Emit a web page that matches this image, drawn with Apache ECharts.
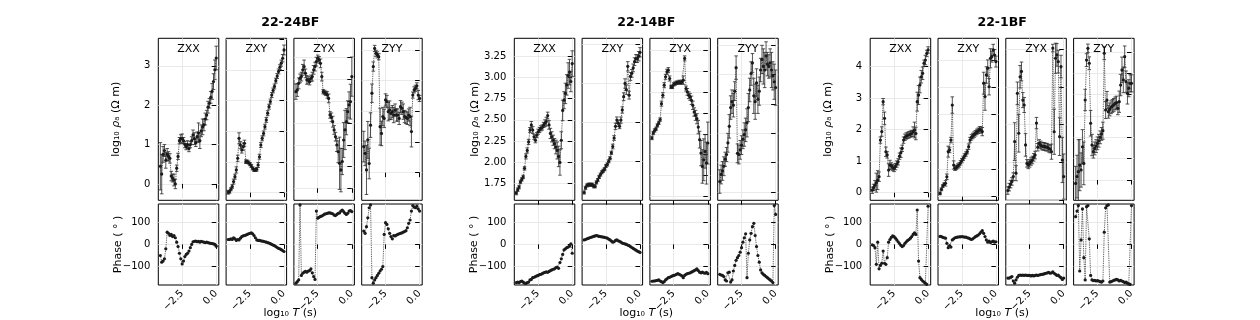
<!DOCTYPE html>
<html><head><meta charset="utf-8">
<script src="https://cdn.jsdelivr.net/npm/echarts@6/dist/echarts.min.js"></script>
<style>html,body{margin:0;padding:0;background:#fff}#c{width:1260px;height:320px}</style>
</head><body><div id="c"></div>
<script>
// ---------------- DATA ----------------
const stations = ['22-24BF', '22-14BF', '22-1BF'];
const components = ['ZXX', 'ZXY', 'ZYX', 'ZYY'];
const periods = [-4.1,-4.0,-3.9,-3.8,-3.7,-3.6,-3.5,-3.4,-3.3,-3.2,-3.1,-3.0,-2.9,-2.8,-2.7,-2.6,-2.5,-2.4,-2.3,-2.2,-2.1,-2.0,-1.9,-1.8,-1.7,-1.6,-1.5,-1.4,-1.3,-1.2,-1.1,-1.0,-0.9,-0.8,-0.7,-0.6,-0.5,-0.4,-0.3,-0.2,-0.1,0.0];

// station 22-24BF
const g1ZxxRho = [0.45,0.25,0.75,0.85,0.6,0.75,0.7,0.65,0.2,0.15,0.1,0.0,0.4,0.7,1.1,1.15,1.15,1.1,1.0,0.95,1.0,0.9,1.0,1.1,1.25,1.15,1.05,1.2,1.3,1.1,1.35,1.45,1.5,1.65,1.75,1.95,2.05,2.2,2.35,2.6,2.9,3.2];
const g1ZxxErr = [0.6,0.5,0.2,0.15,0.2,0.15,0.12,0.12,0.12,0.1,0.15,0.12,0.08,0.08,0.08,0.1,0.12,0.08,0.08,0.08,0.1,0.08,0.08,0.1,0.12,0.15,0.1,0.12,0.25,0.2,0.15,0.2,0.15,0.15,0.12,0.15,0.12,0.15,0.2,0.2,0.25,0.3];
const g1ZxyRho = [0.01,0.03,0.11,0.2,0.36,0.52,0.74,1.12,1.77,1.55,1.39,1.5,1.61,1.01,1.01,0.98,0.93,0.87,0.79,0.74,0.74,0.76,0.9,1.17,1.55,1.77,1.93,2.15,2.37,2.59,2.8,2.97,3.18,3.33,3.46,3.65,3.8,3.95,4.09,4.22,4.38,4.65];
const g1ZxyErr = [0.06,0.05,0.05,0.06,0.08,0.08,0.1,0.1,0.18,0.12,0.1,0.12,0.1,0.06,0.05,0.05,0.05,0.05,0.05,0.05,0.05,0.06,0.08,0.08,0.08,0.08,0.08,0.08,0.08,0.08,0.08,0.08,0.08,0.08,0.08,0.08,0.08,0.08,0.08,0.1,0.12,0.16];
const g1ZyxRho = [4.44,4.52,4.82,5.05,5.13,5.44,5.59,5.28,4.98,4.98,4.9,5.05,5.13,5.44,5.59,5.82,5.97,5.9,5.74,5.13,4.44,4.4,4.36,4.29,4.13,3.37,3.26,3.06,2.68,2.37,1.99,1.68,1.15,0.84,1.23,2.22,2.68,3.06,3.52,3.83,3.98,5.13];
const g1ZyxErr = [0.35,0.3,0.25,0.2,0.2,0.25,0.3,0.2,0.2,0.15,0.15,0.15,0.2,0.2,0.2,0.2,0.15,0.15,0.2,0.2,0.1,0.1,0.1,0.15,0.2,0.15,0.2,0.25,0.2,0.2,0.3,0.5,1.2,1.0,0.6,0.8,0.9,0.6,0.5,0.6,0.8,0.9];
const g1ZyyRho = [0.85,0.63,0.09,1.07,0.3,1.55,2.59,3.46,4.05,3.89,3.84,3.78,1.5,1.28,1.83,1.77,2.37,2.32,1.99,2.04,1.93,1.99,1.88,2.04,1.88,1.88,1.77,2.15,2.1,1.99,1.83,1.8,1.77,1.88,1.83,1.34,2.53,2.7,2.75,2.83,2.53,2.42];
const g1ZyyErr = [0.5,0.4,0.8,0.6,0.5,0.4,0.3,0.15,0.1,0.1,0.1,0.1,0.6,0.4,0.3,0.3,0.2,0.2,0.3,0.3,0.2,0.2,0.25,0.2,0.2,0.2,0.2,0.2,0.2,0.25,0.2,0.2,0.2,0.2,0.3,0.5,0.1,0.1,0.1,0.1,0.15,0.1];
const g1ZxxPhase = [-50,-80,-75,-65,-20,55,50,40,45,35,40,30,10,-10,-40,-65,-88,-75,-55,-45,-40,-30,-15,0,12,14,15,12,14,10,14,12,10,8,10,8,6,5,4,2,0,-8];
const g1ZxyPhase = [22,22,25,22,30,25,18,22,20,28,35,38,40,42,45,48,50,52,48,40,30,20,18,18,16,15,14,12,10,8,6,3,0,-3,-6,-10,-14,-18,-20,-24,-28,-32];
const g1ZyxPhase = [-175,-168,-160,178,-140,-130,-125,-122,-125,-120,-118,-110,-128,-145,-158,150,118,122,126,128,132,136,138,140,142,142,140,138,132,130,135,140,142,150,155,148,140,135,140,150,152,148];
const g1ZyyPhase = [60,50,80,120,165,178,-150,-175,-160,-150,-140,-130,-120,-112,-100,45,98,90,70,50,35,25,40,38,42,45,48,50,52,55,58,62,75,95,110,150,175,168,165,172,160,150];

// station 22-14BF
const g2ZxxRho = [1.64,1.68,1.71,1.77,1.8,1.83,1.93,2.07,2.14,2.24,2.38,2.44,2.38,2.3,2.26,2.32,2.36,2.38,2.4,2.41,2.44,2.46,2.48,2.55,2.44,2.34,2.3,2.26,2.22,2.18,2.14,2.07,2.0,2.26,2.61,2.73,2.81,2.91,3.02,3.06,2.95,3.16];
const g2ZxxErr = [0.02,0.02,0.02,0.02,0.02,0.02,0.02,0.03,0.03,0.03,0.03,0.04,0.04,0.03,0.03,0.03,0.03,0.03,0.03,0.03,0.03,0.04,0.05,0.04,0.05,0.06,0.06,0.06,0.06,0.08,0.1,0.12,0.15,0.1,0.12,0.1,0.12,0.12,0.15,0.15,0.12,0.15];
const g2ZxyRho = [1.6,1.66,1.69,1.7,1.7,1.7,1.7,1.68,1.68,1.73,1.76,1.8,1.83,1.86,1.88,1.9,1.94,1.96,2.0,2.04,2.11,2.19,2.3,2.45,2.53,2.49,2.45,2.53,2.66,2.83,3.0,2.92,3.22,2.85,3.09,3.13,3.2,3.28,3.32,3.32,3.35,3.4];
const g2ZxyErr = [0.02,0.02,0.02,0.02,0.02,0.02,0.02,0.02,0.02,0.02,0.02,0.02,0.02,0.02,0.02,0.02,0.02,0.02,0.02,0.02,0.02,0.03,0.03,0.04,0.04,0.04,0.03,0.04,0.04,0.05,0.06,0.06,0.06,0.05,0.05,0.05,0.05,0.05,0.05,0.05,0.06,0.06];
const g2ZyxRho = [2.45,2.51,2.54,2.56,2.6,2.63,2.67,2.86,2.96,3.08,3.18,3.24,3.26,3.16,3.06,3.06,3.09,3.1,3.11,3.11,3.12,3.11,3.12,3.14,3.4,3.04,3.0,2.96,2.94,2.9,2.84,2.76,2.72,2.68,2.58,2.43,2.27,2.11,2.19,2.29,2.15,2.39];
const g2ZyxErr = [0.02,0.02,0.02,0.02,0.02,0.02,0.02,0.03,0.03,0.03,0.03,0.03,0.03,0.03,0.02,0.02,0.02,0.02,0.02,0.02,0.02,0.02,0.02,0.05,0.03,0.03,0.04,0.04,0.04,0.05,0.05,0.05,0.06,0.06,0.08,0.1,0.15,0.2,0.25,0.2,0.25,0.25];
const g2ZyyRho = [1.84,1.9,1.93,1.97,2.03,2.07,2.17,2.31,2.47,2.52,2.49,2.61,2.81,2.08,2.07,2.11,2.15,2.2,2.24,2.28,2.34,2.47,2.62,2.76,2.85,2.57,2.52,2.68,2.54,2.61,2.79,2.88,2.82,2.79,2.91,2.84,2.82,2.85,2.79,2.74,2.69,2.64];
const g2ZyyErr = [0.1,0.08,0.08,0.08,0.06,0.06,0.08,0.1,0.1,0.1,0.1,0.08,0.1,0.08,0.08,0.08,0.08,0.08,0.1,0.1,0.12,0.12,0.1,0.1,0.08,0.15,0.15,0.12,0.12,0.12,0.1,0.12,0.15,0.15,0.12,0.1,0.1,0.12,0.15,0.12,0.15,0.15];
const g2ZxxPhase = [-172,-170,-172,-168,-165,-170,-175,-176,-172,-170,-160,-158,-150,-148,-145,-142,-140,-136,-135,-132,-128,-126,-124,-126,-122,-118,-115,-112,-110,-105,-102,-108,-82,-65,-45,-25,-20,-15,-12,-8,2,-40];
const g2ZxyPhase = [20,22,25,27,30,32,34,36,38,40,38,36,35,34,33,32,30,28,24,20,15,10,12,18,20,16,14,10,6,4,2,0,-3,-6,-10,-14,-18,-22,-26,-30,-33,-36];
const g2ZyxPhase = [-166,-165,-165,-163,-162,-160,-165,-168,-172,-168,-160,-155,-150,-148,-145,-142,-140,-138,-135,-132,-135,-138,-142,-150,-140,-135,-132,-130,-128,-125,-122,-118,-115,-110,-118,-125,-128,-125,-128,-130,-126,-132];
const g2ZyyPhase = [-135,-138,-140,-145,-160,-165,-128,-125,-170,-160,-120,-95,-72,-60,-50,-35,-15,10,30,48,-150,-40,20,50,80,95,40,-10,-50,-80,-115,-128,-135,-140,-145,-150,-155,-160,-165,-172,175,135];

// station 22-1BF
const g3ZxxRho = [0.08,0.17,0.24,0.32,0.4,0.51,1.67,1.94,2.89,2.36,1.3,1.2,0.72,0.88,0.85,0.8,0.77,0.83,0.91,0.98,1.16,1.27,1.41,1.67,1.76,1.8,1.82,1.84,1.86,1.88,1.94,1.99,1.88,2.89,3.1,3.42,3.68,3.79,4.11,4.21,4.42,4.53];
const g3ZxxErr = [0.1,0.1,0.15,0.3,0.3,0.15,0.1,0.15,0.1,0.2,0.15,0.1,0.2,0.15,0.1,0.1,0.1,0.1,0.1,0.1,0.1,0.15,0.1,0.1,0.1,0.1,0.1,0.1,0.1,0.1,0.15,0.25,0.2,0.3,0.3,0.25,0.2,0.2,0.1,0.15,0.1,0.1];
const g3ZxyRho = [0.12,0.27,0.39,0.46,0.49,0.73,1.65,1.71,2.07,3.35,1.16,1.04,1.07,1.12,1.16,1.24,1.32,1.4,1.49,1.56,1.65,1.83,2.07,2.17,2.22,2.27,2.32,2.37,2.41,2.46,2.44,2.38,4.15,3.66,4.45,4.7,4.02,5.06,5.12,5.37,5.18,4.94];
const g3ZxyErr = [0.05,0.05,0.05,0.05,0.1,0.1,0.2,0.1,0.1,0.3,0.15,0.08,0.08,0.08,0.08,0.08,0.08,0.08,0.08,0.08,0.08,0.1,0.1,0.1,0.1,0.1,0.1,0.1,0.1,0.1,0.12,0.15,0.4,0.5,0.3,0.3,0.3,0.35,0.2,0.2,0.2,0.2];
const g3ZyxRho = [0.25,0.34,0.42,0.49,0.62,1.55,0.71,2.83,1.77,3.27,3.41,2.65,2.52,1.46,0.97,0.93,0.97,1.02,1.06,1.13,1.19,2.04,1.4,1.5,1.46,1.43,1.42,1.42,1.4,1.4,1.37,1.35,1.28,4.03,1.81,3.76,3.85,3.67,1.68,3.54,1.06,0.62];
const g3ZyxErr = [0.1,0.1,0.1,0.1,0.1,0.5,0.2,0.3,0.5,0.3,0.25,0.2,0.2,0.3,0.1,0.1,0.1,0.1,0.1,0.1,0.1,0.15,0.1,0.1,0.1,0.1,0.1,0.1,0.1,0.1,0.1,0.1,0.2,0.1,0.6,0.4,0.3,0.3,0.5,0.3,0.6,0.6];
const g3ZyyRho = [-0.16,0.16,0.39,0.7,0.47,1.56,0.78,3.75,5.62,6.17,5.47,2.66,1.64,1.33,1.48,1.59,1.72,1.84,2.0,2.16,2.31,5.94,3.28,3.75,3.2,3.31,3.41,3.47,3.52,3.59,3.63,3.36,3.67,4.45,5.16,4.69,5.78,4.61,4.06,4.3,4.53,4.53];
const g3ZyyErr = [0.8,1.0,1.5,1.2,0.8,0.8,1.0,0.5,0.3,0.2,0.3,0.6,0.5,0.3,0.3,0.3,0.3,0.3,0.3,0.3,0.4,0.3,0.4,0.4,0.3,0.3,0.3,0.3,0.3,0.3,0.3,0.3,0.5,0.5,0.6,0.6,0.5,0.5,0.5,0.4,0.4,0.4];
const g3ZxxPhase = [-2,-5,-15,-90,10,-110,-95,-85,-30,-85,-90,-60,10,22,32,38,35,28,20,12,4,-4,-10,-5,5,12,18,22,28,35,45,52,45,155,-75,-150,-158,-165,-170,-175,-180,172];
const g3ZxyPhase = [36,35,32,30,28,5,-15,-5,-12,20,25,30,32,33,34,34,35,34,33,33,30,28,25,22,25,30,35,38,42,48,55,62,50,35,20,10,15,8,12,15,10,12];
const g3ZyxPhase = [-152,-152,-148,-145,-165,-175,-160,-148,-140,-138,-140,-138,-140,-138,-140,-140,-140,-142,-140,-142,-140,-138,-140,-138,-136,-135,-134,-132,-130,-128,-126,-130,-128,-124,-130,-135,-140,-138,-145,-150,-158,-152];
const g3ZyyPhase = [125,150,175,-120,20,160,-60,-160,170,175,25,-140,-160,-163,-162,-165,-163,-165,-168,-170,-165,55,165,175,178,-170,-168,-165,-162,-160,-158,-160,-165,-162,-165,-168,-172,-170,-175,-178,-180,175];

// tick values
const periodTicks = [-2.5, 0];
const phaseTicks = [-100, 0, 100];
const g1RhoTicks = [[0,1,2,3], [0,1,2,3,4,5], [0,1,2,3,4,5,6], [0,1,2,3,4]];
const g2RhoTicks = [[1.75,2.0,2.25,2.5,2.75,3.0,3.25], [2.0,2.5,3.0,3.5], [1.75,2.0,2.25,2.5,2.75,3.0,3.25,3.5], [1.75,2.0,2.25,2.5,2.75,3.0]];
const g3RhoTicks = [[0,1,2,3,4], [0,1,2,3,4,5], [0,1,2,3,4], [0,1,2,3,4,5,6]];

// ---------------- LAYOUT / STYLE ----------------
const rhoSets = [
  [g1ZxxRho, g1ZxyRho, g1ZyxRho, g1ZyyRho],
  [g2ZxxRho, g2ZxyRho, g2ZyxRho, g2ZyyRho],
  [g3ZxxRho, g3ZxyRho, g3ZyxRho, g3ZyyRho]];
const errSets = [
  [g1ZxxErr, g1ZxyErr, g1ZyxErr, g1ZyyErr],
  [g2ZxxErr, g2ZxyErr, g2ZyxErr, g2ZyyErr],
  [g3ZxxErr, g3ZxyErr, g3ZyxErr, g3ZyyErr]];
const phaseSets = [
  [g1ZxxPhase, g1ZxyPhase, g1ZyxPhase, g1ZyyPhase],
  [g2ZxxPhase, g2ZxyPhase, g2ZyxPhase, g2ZyyPhase],
  [g3ZxxPhase, g3ZxyPhase, g3ZyxPhase, g3ZyyPhase]];
const tickSets = [g1RhoTicks, g2RhoTicks, g3RhoTicks];
const rhoLimits = [
  [[-0.415, 3.70], [-0.25, 5.03], [-0.55, 6.89], [-0.9, 4.38]],
  [[1.555, 3.457], [1.50, 3.58], [1.706, 3.64], [1.68, 3.06]],
  [[-0.24, 4.9], [-0.13, 5.79], [-0.01, 4.29], [-0.95, 6.64]]];
const labelDecimals = [0, 2, 0];

const GL = [158.3, 514.3, 870.2];
const STEP = 67.8, PW = 60.5;
const TOPY = 38.3, TOPH = 162, BOTY = 204, BOTH = 81;
const FONT = "'DejaVu Sans', sans-serif";
const minus = s => String(s).replace('-', '\u2212');

const grids = [], xAxes = [], yAxes = [], series = [], graphics = [];

function addPanel(left, top, h, xLabels, yMin, yMax, yTicks, yLabels, yFmt) {
  const gi = grids.length;
  grids.push({left: left, top: top, width: PW, height: h, show: true,
    borderColor: '#000', borderWidth: 1, backgroundColor: 'rgba(0,0,0,0)',
    containLabel: false, outerBoundsMode: 'none'});
  xAxes.push({type: 'value', gridIndex: gi, min: -4.25, max: 0.19,
    axisLine: {show: false},
    axisTick: {show: true, length: 4.5, customValues: periodTicks, lineStyle: {color: '#000', width: 1}},
    axisLabel: {show: xLabels, customValues: periodTicks, rotate: 45, margin: 7,
      formatter: v => minus(v.toFixed(1)), fontSize: 10, color: '#000', fontFamily: FONT},
    splitLine: {show: true, lineStyle: {color: '#e4e4e4', width: 0.8}}});
  yAxes.push({type: 'value', gridIndex: gi, min: yMin, max: yMax,
    axisLine: {show: false},
    axisTick: {show: true, length: 4.5, customValues: yTicks, lineStyle: {color: '#000', width: 1}},
    axisLabel: {show: yLabels, customValues: yTicks, margin: 8, formatter: yFmt,
      fontSize: 10, color: '#000', fontFamily: FONT},
    splitLine: {show: true, lineStyle: {color: '#e4e4e4', width: 0.8}}});
  return gi;
}

function lineSeries(gi, vals) {
  return {type: 'line', xAxisIndex: gi, yAxisIndex: gi, silent: true, animation: false,
    data: periods.map((p, i) => [p, vals[i]]), symbol: 'circle', symbolSize: 3.2,
    showAllSymbol: true, clip: true, z: 3,
    itemStyle: {color: '#1a1a1a'},
    lineStyle: {color: '#3a3a3a', width: 0.9, type: 'dotted'}};
}

function renderErr(params, api) {
  const x = api.value(0), y = api.value(1), e = api.value(2);
  const lo = api.coord([x, y - e]), hi = api.coord([x, y + e]);
  const cap = 1.8;
  const st = {stroke: '#2a2a2a', lineWidth: 0.8};
  return {type: 'group', children: [
    {type: 'line', shape: {x1: lo[0], y1: lo[1], x2: hi[0], y2: hi[1]}, style: st},
    {type: 'line', shape: {x1: lo[0] - cap, y1: lo[1], x2: lo[0] + cap, y2: lo[1]}, style: st},
    {type: 'line', shape: {x1: hi[0] - cap, y1: hi[1], x2: hi[0] + cap, y2: hi[1]}, style: st}
  ]};
}

function txt(x, y, text, size, opts) {
  opts = opts || {};
  const el = {type: 'text', x: x, y: y, silent: true, z: 10,
    style: {text: text, fontSize: size, fontFamily: FONT, fontWeight: opts.bold ? 'bold' : 'normal',
      fill: '#000', align: 'center', verticalAlign: 'middle',
      textAlign: 'center', textVerticalAlign: 'middle'}};
  if (opts.rich) el.style.rich = opts.rich;
  if (opts.rot) el.rotation = opts.rot;
  return el;
}

for (let g = 0; g < 3; g++) {
  const dec = labelDecimals[g];
  for (let c = 0; c < 4; c++) {
    const left = GL[g] + c * STEP;
    const lim = rhoLimits[g][c];
    const ti = addPanel(left, TOPY, TOPH, false, lim[0], lim[1], tickSets[g][c], c === 0,
      v => minus(v.toFixed(dec)));
    series.push({type: 'custom', xAxisIndex: ti, yAxisIndex: ti, silent: true, animation: false,
      clip: true, z: 2, renderItem: renderErr, encode: {x: 0, y: 1},
      data: periods.map((p, i) => [p, rhoSets[g][c][i], errSets[g][c][i]])});
    series.push(lineSeries(ti, rhoSets[g][c]));
    const bi = addPanel(left, BOTY, BOTH, true, -183, 182, phaseTicks, c === 0,
      v => minus(v.toFixed(0)));
    series.push(lineSeries(bi, phaseSets[g][c]));
    graphics.push(txt(left + PW / 2, TOPY + 11, components[c], 11));
  }
  const center = GL[g] + (3 * STEP + PW) / 2;
  graphics.push(txt(center, 23, stations[g], 12.5, {bold: true}));
  graphics.push(txt(center, 313, '{n|log\u2081\u2080 }{i|T}{n| (s)}', 11,
    {rich: {n: {fontSize: 11, fontFamily: FONT, fill: '#000'}, i: {fontSize: 11, fontFamily: FONT, fontStyle: 'italic', fill: '#000'}}}));
  graphics.push(txt(GL[g] - (g === 1 ? 39 : 42), TOPY + TOPH / 2,
    '{n|log\u2081\u2080 }{i|\u03c1}{n|\u2090 (\u03a9 m)}', 11,
    {rot: Math.PI / 2, rich: {n: {fontSize: 11, fontFamily: FONT, fill: '#000'}, i: {fontSize: 11, fontFamily: FONT, fontStyle: 'italic', fill: '#000'}}}));
  graphics.push(txt(GL[g] - 40, BOTY + BOTH / 2, 'Phase ( \u00b0 )', 11, {rot: Math.PI / 2}));
}

const chart = echarts.init(document.getElementById('c'), null, {renderer: 'canvas'});
chart.setOption({
  animation: false,
  backgroundColor: '#fff',
  textStyle: {fontFamily: FONT},
  grid: grids, xAxis: xAxes, yAxis: yAxes, series: series, graphic: graphics
});
</script></body></html>
